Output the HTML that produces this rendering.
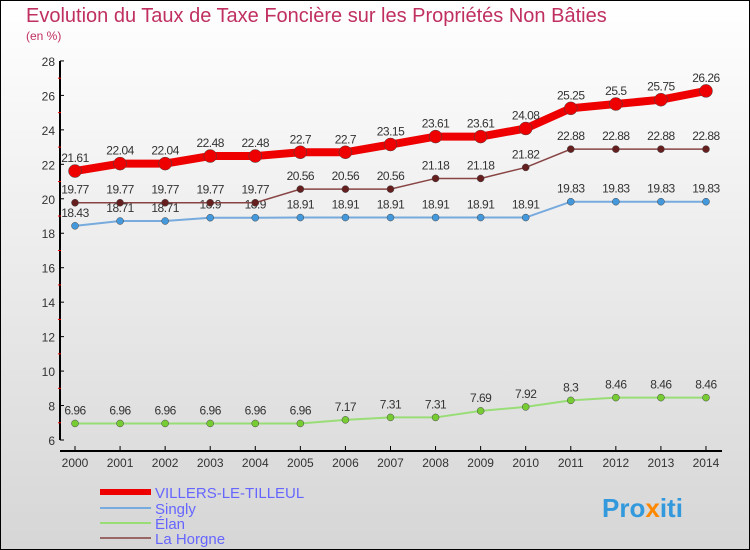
<!DOCTYPE html>
<html><head><meta charset="utf-8"><style>
body{margin:0}
#c{width:750px;height:550px;position:relative;box-sizing:border-box;border:1px solid #000;background:linear-gradient(#ffffff,#d6d6d6);font-family:"Liberation Sans",sans-serif;overflow:hidden}
</style></head><body>
<div id="c">
<svg id="s" width="750" height="550" style="position:absolute;left:-1px;top:-1px">
<text x="26" y="22" font-size="20" fill="#c0305f">Evolution du Taux de Taxe Foncière sur les Propriétés Non Bâties</text>
<text x="26" y="40" font-size="12" fill="#c0305f">(en %)</text>
<text x="100" y="78" font-size="1" fill="none"> </text>
<g id="g"></g>
<text x="602" y="517" font-size="26" font-weight="bold" fill="#3399dd">Pro<tspan fill="#ff8800">x</tspan>iti</text>
</svg>
</div>
<script>
const years=[2000,2001,2002,2003,2004,2005,2006,2007,2008,2009,2010,2011,2012,2013,2014];
const villers=[21.61,22.04,22.04,22.48,22.48,22.7,22.7,23.15,23.61,23.61,24.08,25.25,25.5,25.75,26.26];
const singly=[18.43,18.71,18.71,18.9,18.9,18.91,18.91,18.91,18.91,18.91,18.91,19.83,19.83,19.83,19.83];
const elan=[6.96,6.96,6.96,6.96,6.96,6.96,7.17,7.31,7.31,7.69,7.92,8.3,8.46,8.46,8.46];
const horgne=[19.77,19.77,19.77,19.77,19.77,20.56,20.56,20.56,21.18,21.18,21.82,22.88,22.88,22.88,22.88];
const yTicks=[6,8,10,12,14,16,18,20,22,24,26,28];
const NS="http://www.w3.org/2000/svg";
const g=document.getElementById('g');
const X=i=>75+i*45.07;
const Y=v=>440-(v-6)*17.23;
function el(t,a,txt){const e=document.createElementNS(NS,t);for(const k in a)e.setAttribute(k,a[k]);if(txt!==undefined)e.textContent=txt;g.appendChild(e);return e;}
let ax=el('line',{x1:60,y1:Y(28),x2:60,y2:Y(6),stroke:'#000','stroke-width':2});

let bx=el('line',{x1:60,y1:451,x2:722,y2:451,stroke:'#000','stroke-width':2});

yTicks.forEach(v=>{
 el('line',{x1:60,y1:Y(v),x2:64,y2:Y(v),stroke:'#000'});
 if(v<28)el('line',{x1:58,y1:Y(v+1),x2:61,y2:Y(v+1),stroke:'#e00'});
 const t=el('text',{x:55,y:Y(v)+5,'font-size':12,fill:'#333','text-anchor':'end'},v);
 
});
years.forEach((yr,i)=>{
 el('line',{x1:X(i),y1:446,x2:X(i),y2:451,stroke:'#000'});
 const t=el('text',{x:X(i),y:467,'font-size':12,fill:'#333','text-anchor':'middle'},yr);
 
});
function series(d,color,dot,w,r,name){
 const p=el('polyline',{points:d.map((v,i)=>X(i)+','+Y(v)).join(' '),fill:'none',stroke:color,'stroke-width':w});
 
 d.forEach((v,i)=>{
  const c=el('circle',{cx:X(i),cy:Y(v),r:r,fill:dot,stroke:'#444','stroke-width':0.5});
  
  const t=el('text',{x:X(i),y:Y(v)-9,'font-size':12,fill:'#333','text-anchor':'middle','letter-spacing':'-0.5'},v);
  
 });
}
series(elan,'#99dd77','#77cc33',2,3.5,'elan');
series(singly,'#77aadd','#4499dd',2,3.5,'singly');
series(horgne,'#884444','#661f1f',1.5,3.5,'la-horgne');
series(villers,'#ee0000','#ee0000',8,6.5,'villers');
const leg=[['VILLERS-LE-TILLEUL','#ee0000',6],['Singly','#77aadd',2],['Élan','#99dd77',2],['La Horgne','#996666',2]];
const ly=[492,508,523,538];
leg.forEach((l,i)=>{
 const a=el('line',{x1:100,y1:ly[i],x2:151,y2:ly[i],stroke:l[1],'stroke-width':l[2]});
 
 const t=el('text',{x:155,y:ly[i]+6,'font-size':15,fill:'#6666ff'},l[0]);
 
});
</script>
</body></html>
